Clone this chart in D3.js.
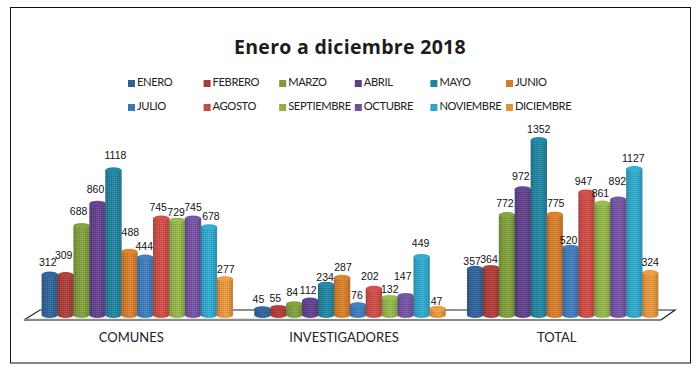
<!DOCTYPE html>
<html><head><meta charset="utf-8">
<script src="https://cdnjs.cloudflare.com/ajax/libs/d3/7.8.5/d3.min.js"></script>
<style>html,body{margin:0;padding:0;background:#fff}svg{display:block}</style>
</head><body><svg id="c" width="699" height="372"></svg>
<script>
const categories = ["COMUNES","INVESTIGADORES","TOTAL"];
const months = ["ENERO","FEBRERO","MARZO","ABRIL","MAYO","JUNIO","JULIO","AGOSTO","SEPTIEMBRE","OCTUBRE","NOVIEMBRE","DICIEMBRE"];
const comunes = [312,309,688,860,1118,488,444,745,729,745,678,277];
const investigadores = [45,55,84,112,234,287,76,202,132,147,449,47];
const total = [357,364,772,972,1352,775,520,947,861,892,1127,324];
const colors = ["#2f6095","#a83c38","#7c9a3a","#5f4088","#22809c","#d07a2a","#3d78b6","#c94a44","#8fb048","#70509e","#2ea4c6","#e0923c"];
// hand-read label offsets [dx,dy] from the default spot above each bar
const nudgeComunes = [[-2,-1],[-2,-8],[-3,-3],[-2,-3],[2,-3],[1,-8],[-1,0],[-3,0],[-1,3],[0,0],[2,1],[1,2]];
const nudgeInvest = [[-4,2],[-3,2],[-2,0],[-2,1],[-1,4],[1,1],[-1,2],[-4,-1],[0,3],[-3,-8],[-1,-2],[-1,4]];
const nudgeTotal = [[-3,4],[-2,3],[-2,0],[-2,-1],[0,1],[1,0],[-2,4],[-3,1],[-2,1],[-1,-7],[-1,1],[0,1]];

const svg = d3.select("#c");
const series = [comunes, investigadores, total];
const nudges = [nudgeComunes, nudgeInvest, nudgeTotal];

const x0 = d3.scaleBand().domain(categories).range([31, 669]);
const x1 = d3.scaleBand().domain(months).range([0, x0.bandwidth()]).paddingOuter(0.68).paddingInner(0);
const y = d3.scaleLinear().domain([0, 1352]).range([315, 140]);

const ry = 3;
const defs = svg.append("defs");
colors.forEach((c, i) => {
  const g = defs.append("linearGradient").attr("id", "g" + i);
  const k = d3.color(c);
  [[0, k.darker(0.5)], [0.22, k], [0.58, k.brighter(0.22)], [0.85, k.darker(0.1)], [1, k.darker(0.5)]]
    .forEach(([o, col]) => g.append("stop").attr("offset", o).attr("stop-color", col));
});
// fine checker that mimics the dithered look of the original
const p = defs.append("pattern").attr("id", "dither").attr("width", 2).attr("height", 2).attr("patternUnits", "userSpaceOnUse");
p.append("rect").attr("width", 1).attr("height", 1).attr("fill", "#000").attr("fill-opacity", 0.12);
p.append("rect").attr("x", 1).attr("y", 1).attr("width", 1).attr("height", 1).attr("fill", "#fff").attr("fill-opacity", 0.12);

// frame
svg.append("rect").attr("x", 10.5).attr("y", 7.5).attr("width", 680).attr("height", 355.5)
  .attr("fill", "#fff").attr("stroke", "#111").attr("stroke-width", 1);

// title
svg.append("text").attr("x", 350).attr("y", 54).attr("text-anchor", "middle")
  .attr("font-family", "'Open Sans'").attr("font-weight", 700).attr("font-size", 19.5)
  .attr("letter-spacing", 0.3).attr("fill", "#1c1c1c").text("Enero a diciembre 2018");

// legend
const lx = d3.scalePoint().domain(d3.range(6)).range([128, 506]);
const ly = d3.scalePoint().domain([0, 1]).range([82, 106]);
const leg = svg.append("g").selectAll("g").data(months).join("g")
  .attr("transform", (d, i) => `translate(${lx(i % 6)},${ly(Math.floor(i / 6))})`);
leg.append("rect").attr("x", 0).attr("y", -2).attr("width", 7).attr("height", 7).attr("fill", (d, i) => colors[i]);
leg.append("text").attr("x", 9).attr("y", 4).attr("font-family", "Lato").attr("font-size", 11.2)
  .attr("letter-spacing", -0.4).attr("fill", "#222").text(d => d);

// floor
const floorBack = 310, floorFront = 320;
const fl = x0.range()[0] - 7, fr = x0.range()[1] - 8;
const floor = svg.append("g").attr("fill", "none");
floor.append("path").attr("stroke", "#222").attr("stroke-width", 1.2)
  .attr("d", `M${fl},${floorFront}L${fl + 16},${floorBack}L${fr + 14},${floorBack}L${fr},${floorFront}`);
floor.append("line").attr("x1", fl).attr("x2", fr).attr("y1", floorFront).attr("y2", floorFront)
  .attr("stroke", "#111").attr("stroke-width", 1);
floor.append("line").attr("x1", fl).attr("x2", 320).attr("y1", floorFront - 0.5).attr("y2", floorFront - 0.5)
  .attr("stroke", "#8a9088").attr("stroke-width", 1.6);
floor.append("line").attr("x1", x0("INVESTIGADORES") + x0.bandwidth()).attr("x2", 468).attr("y1", floorBack).attr("y2", floorBack)
  .attr("stroke", "#999").attr("stroke-width", 1.4);

// cylinders
const groups = svg.append("g").selectAll("g").data(categories).join("g")
  .attr("transform", d => `translate(${x0(d)},0)`);
groups.each(function (cat, ci) {
  const g = d3.select(this);
  const rows = months.map((m, i) => ({ m, i, v: series[ci][i], n: nudges[ci][i] }));
  const bars = g.selectAll("g.bar").data(rows).join("g").attr("class", "bar");
  const rx = x1.bandwidth() / 2 + 0.2;
  const shape = d => {
    const cx = x1(d.m) + x1.bandwidth() / 2, t = y(d.v), b = y(0);
    return `M${cx - rx},${t}A${rx},${ry} 0 0 1 ${cx + rx},${t}L${cx + rx},${b}A${rx},${ry} 0 0 1 ${cx - rx},${b}Z`;
  };
  bars.append("path").attr("d", shape).attr("fill", d => `url(#g${d.i})`);
  bars.append("path").attr("d", shape).attr("fill", "url(#dither)");
  bars.append("ellipse").attr("cx", d => x1(d.m) + x1.bandwidth() / 2).attr("cy", d => y(d.v))
    .attr("rx", rx - 0.5).attr("ry", ry - 0.8).attr("fill", d => d3.color(colors[d.i]).brighter(0.2));
  g.selectAll("text.val").data(rows).join("text").attr("class", "val")
    .attr("x", d => x1(d.m) + x1.bandwidth() / 2 + d.n[0])
    .attr("y", d => y(d.v) - 8 + d.n[1])
    .attr("text-anchor", "middle").attr("font-family", "'Liberation Sans Narrow','Liberation Sans'").attr("font-size", 10.5)
    .attr("fill", "#111").text(d => d.v);
});

// category axis
const axis = svg.append("g").attr("transform", "translate(-6,332)")
  .call(d3.axisBottom(x0).tickSize(0).tickPadding(0));
axis.select(".domain").remove();
axis.selectAll("text").attr("font-family", "Lato").attr("font-size", 13).attr("fill", "#222").attr("dy", "0.8em");
</script></body></html>
